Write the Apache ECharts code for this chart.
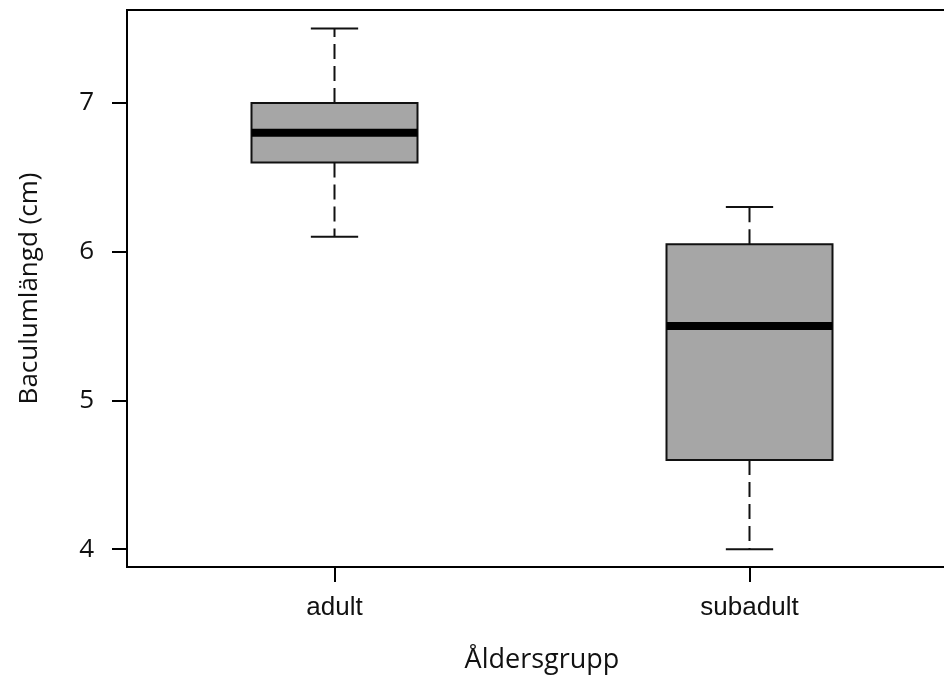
<!DOCTYPE html>
<html><head><meta charset="utf-8">
<script src="https://cdn.jsdelivr.net/npm/echarts@6/dist/echarts.min.js"></script>
<style>html,body{margin:0;padding:0;background:#fff}#c{width:944px;height:679px}</style>
</head><body><div id="c"></div>
<script>
const categories = ['adult', 'subadult'];
// [lower whisker, Q1, median, Q3, upper whisker]
const adultStats = [6.1, 6.6, 6.8, 7.0, 7.5];
const subadultStats = [4.0, 4.6, 5.5, 6.05, 6.3];
const yTicks = [4, 5, 6, 7];

const boxData = [[0].concat(adultStats), [1].concat(subadultStats)];

const chart = echarts.init(document.getElementById('c'), null, {renderer: 'canvas'});
chart.setOption({
  backgroundColor: '#fff',
  animation: false,
  grid: {left: 127, top: 10, right: -13, bottom: 112, show: true, borderColor: '#000', borderWidth: 2, backgroundColor: 'transparent', outerBoundsMode: 'none'},
  xAxis: {
    type: 'category', data: categories, boundaryGap: true,
    name: 'Åldersgrupp', nameLocation: 'middle', nameGap: 80,
    nameTextStyle: {fontFamily: 'Open Sans', fontSize: 27, color: '#111'},
    axisLine: {show: true, lineStyle: {color: '#000', width: 2}},
    axisTick: {show: true, alignWithLabel: true, length: 15, lineStyle: {color: '#000', width: 2}},
    axisLabel: {fontFamily: 'Liberation Sans', fontSize: 26, color: '#111', margin: 28},
    splitLine: {show: false}
  },
  yAxis: {
    type: 'value', min: 3.88, max: 7.625,
    name: 'Baculumlängd (cm)', nameLocation: 'middle', nameGap: 84, nameRotate: 90,
    nameTextStyle: {fontFamily: 'Open Sans', fontSize: 26, color: '#111'},
    axisLine: {show: true, lineStyle: {color: '#000', width: 2}},
    axisTick: {show: true, length: 15, lineStyle: {color: '#000', width: 2}, customValues: yTicks},
    axisLabel: {fontFamily: 'Open Sans', fontSize: 26, color: '#111', margin: 33, customValues: yTicks},
    splitLine: {show: false}
  },
  series: [{
    type: 'custom',
    data: boxData,
    encode: {x: 0, y: [1, 2, 3, 4, 5]},
    clip: false,
    renderItem: function (params, api) {
      const xi = api.value(0);
      const band = api.size([1, 0])[0];
      const halfBox = band * 0.2;
      const halfCap = band * 0.057;
      const pLow = api.coord([xi, api.value(1)]);
      const pQ1 = api.coord([xi, api.value(2)]);
      const pMed = api.coord([xi, api.value(3)]);
      const pQ3 = api.coord([xi, api.value(4)]);
      const pHigh = api.coord([xi, api.value(5)]);
      const cx = pMed[0];
      const dash = {stroke: '#111', lineWidth: 2, lineDash: [15, 7]};
      const solid = {stroke: '#111', lineWidth: 2};
      return {
        type: 'group',
        children: [
          {type: 'line', shape: {x1: cx, y1: pQ3[1], x2: cx, y2: pHigh[1]}, style: dash},
          {type: 'line', shape: {x1: cx, y1: pQ1[1], x2: cx, y2: pLow[1]}, style: dash},
          {type: 'line', shape: {x1: cx - halfCap, y1: pHigh[1], x2: cx + halfCap, y2: pHigh[1]}, style: solid},
          {type: 'line', shape: {x1: cx - halfCap, y1: pLow[1], x2: cx + halfCap, y2: pLow[1]}, style: solid},
          {type: 'rect', shape: {x: cx - halfBox, y: pQ3[1], width: halfBox * 2, height: pQ1[1] - pQ3[1]},
           style: {fill: '#a6a6a6', stroke: '#111', lineWidth: 2}},
          {type: 'line', shape: {x1: cx - halfBox, y1: pMed[1], x2: cx + halfBox, y2: pMed[1]},
           style: {stroke: '#000', lineWidth: 8}}
        ]
      };
    }
  }]
});
</script>
</body></html>
